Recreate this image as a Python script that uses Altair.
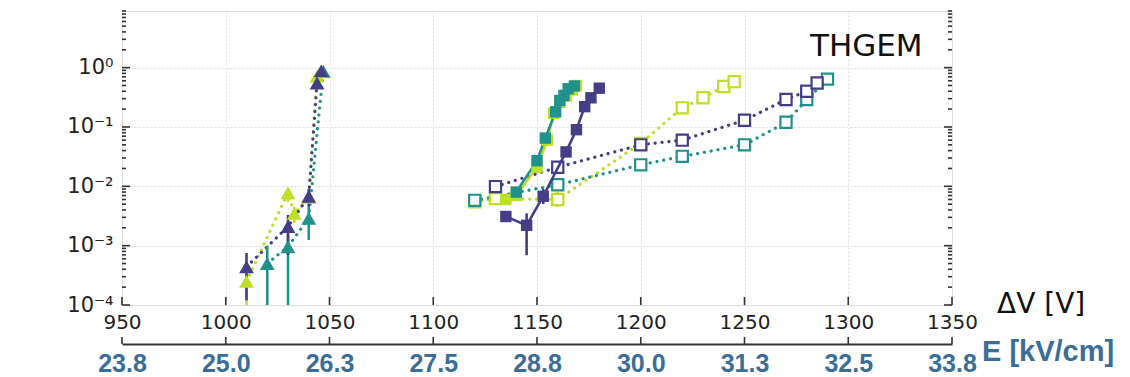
import altair as alt
import pandas as pd

# ---------------- data ----------------
C_PURPLE = "#433e85"
C_TEAL = "#21918c"
C_LIME = "#bddf26"

# triangles, dotted lines
tri_lime_x = [1010, 1030, 1033, 1040, 1044, 1046]
tri_lime_y = [2.5e-4, 7.8e-3, 3.5e-3, 6.5e-3, 0.72, 0.85]
tri_lime_lo = [1e-5, 5.5e-3, 2.4e-3, 5.0e-3, 0.65, 0.80]
tri_lime_hi = [3.2e-4, 9.0e-3, 4.5e-3, 8.0e-3, 0.80, 0.90]

tri_purple_x = [1010, 1030, 1040, 1044, 1046]
tri_purple_y = [4.4e-4, 2.1e-3, 6.8e-3, 0.55, 0.88]
tri_purple_lo = [1.2e-4, 7.0e-4, 4.5e-3, 0.50, 0.85]
tri_purple_hi = [7.5e-4, 3.3e-3, 9.0e-3, 0.60, 0.92]

tri_teal_x = [1020, 1030, 1040, 1047]
tri_teal_y = [5.0e-4, 9.6e-4, 2.9e-3, 0.87]
tri_teal_lo = [1e-5, 1e-5, 1.25e-3, 0.80]
tri_teal_hi = [1.0e-3, 1.5e-3, 4.5e-3, 0.95]

# filled squares, solid lines
fill_lime_x = [1135, 1140, 1150, 1155, 1158, 1161, 1164, 1167, 1169]
fill_lime_y = [6.0e-3, 7.0e-3, 0.021, 0.060, 0.17, 0.26, 0.33, 0.42, 0.50]
fill_teal_x = [1140, 1150, 1154, 1159, 1161, 1163, 1165, 1168]
fill_teal_y = [8.0e-3, 0.027, 0.065, 0.18, 0.28, 0.34, 0.44, 0.49]
fill_teal_lo = [6.0e-3, 0.025, 0.062, 0.17, 0.27, 0.33, 0.43, 0.48]
fill_teal_hi = [9.5e-3, 0.029, 0.068, 0.19, 0.29, 0.35, 0.45, 0.50]
fill_purple_x = [1135, 1145, 1153, 1164, 1169, 1173, 1176, 1180]
fill_purple_y = [3.1e-3, 2.2e-3, 6.8e-3, 0.038, 0.090, 0.22, 0.31, 0.45]
fill_purple_lo = [2.5e-3, 6.9e-4, 5.0e-3, 0.035, 0.085, 0.21, 0.30, 0.44]
fill_purple_hi = [3.8e-3, 3.5e-3, 9.0e-3, 0.041, 0.095, 0.23, 0.32, 0.46]

# open squares, dotted lines
open_lime_x = [1120, 1130, 1160, 1200, 1220, 1230, 1240, 1245]
open_lime_y = [5.5e-3, 6.2e-3, 6.0e-3, 0.053, 0.21, 0.31, 0.48, 0.58]
open_lime_lo = [4.3e-3, 5.5e-3, 4.5e-3, 0.050, 0.20, 0.30, 0.47, 0.57]
open_lime_hi = [6.5e-3, 7.0e-3, 8.0e-3, 0.056, 0.22, 0.32, 0.49, 0.59]
open_purple_x = [1130, 1160, 1200, 1220, 1250, 1270, 1280, 1285]
open_purple_y = [9.9e-3, 0.021, 0.050, 0.060, 0.13, 0.29, 0.40, 0.55]
open_teal_x = [1120, 1160, 1200, 1220, 1250, 1270, 1280, 1290]
open_teal_y = [5.8e-3, 0.0106, 0.023, 0.032, 0.050, 0.12, 0.29, 0.64]

x_ticks = [950, 1000, 1050, 1100, 1150, 1200, 1250, 1300, 1350]
e_tick_labels = ["23.8", "25.0", "26.3", "27.5", "28.8", "30.0", "31.3", "32.5", "33.8"]
y_ticks = [1e-4, 1e-3, 1e-2, 1e-1, 1e0]
y_tick_labels = ["10⁻⁴", "10⁻³", "10⁻²", "10⁻¹", "10⁰"]
y_minor = [m * 10.0 ** k for k in range(-4, 1) for m in range(2, 10)]

# ---------------- build tables ----------------
def frame(name, xs, ys, lo=None, hi=None):
    lo = lo if lo is not None else ys
    hi = hi if hi is not None else ys
    return pd.DataFrame({"s": name, "x": xs, "y": ys, "lo": lo, "hi": hi})

tri = pd.concat([
    frame("teal", tri_teal_x, tri_teal_y, tri_teal_lo, tri_teal_hi),
    frame("lime", tri_lime_x, tri_lime_y, tri_lime_lo, tri_lime_hi),
    frame("purple", tri_purple_x, tri_purple_y, tri_purple_lo, tri_purple_hi),
])
fil = pd.concat([
    frame("purple", fill_purple_x, fill_purple_y, fill_purple_lo, fill_purple_hi),
    frame("lime", fill_lime_x, fill_lime_y),
    frame("teal", fill_teal_x, fill_teal_y, fill_teal_lo, fill_teal_hi),
])
opn = pd.concat([
    frame("lime", open_lime_x, open_lime_y, open_lime_lo, open_lime_hi),
    frame("teal", open_teal_x, open_teal_y),
    frame("purple", open_purple_x, open_purple_y),
])

W, H = 830, 294
XDOM = [950, 1350]
YDOM = [1e-4, 9]
SEC_OFF = 39
E_COLOR = "#3a6d98"

y_label_expr = "[" + ",".join("'%s'" % t for t in y_tick_labels) + "][round(log(datum.value)/LN10)+4]"
e_label_expr = "[" + ",".join("'%s'" % t for t in e_tick_labels) + "][round((datum.value-950)/50)]"

X = alt.X("x:Q", scale=alt.Scale(domain=XDOM, nice=False, zero=False),
          axis=alt.Axis(values=x_ticks, format="d", title=None, ticks=False, domain=False,
                        grid=True, gridColor="#dddddd", gridDash=[2, 2], gridWidth=1,
                        labelFont="DejaVu Sans", labelFontSize=20, labelColor="#222222",
                        labelPadding=7, labelFlush=False))

def YF(field):
    return alt.Y(field, type="quantitative", scale=alt.Scale(type="log", domain=YDOM, nice=False),
                 axis=alt.Axis(values=y_ticks, title=None, ticks=False, domain=False,
                               grid=True, gridColor="#dddddd", gridDash=[2, 2], gridWidth=1,
                               labelExpr=y_label_expr, labelFont="DejaVu Sans", labelFontSize=21,
                               labelColor="#222222", labelPadding=9, labelFlush=False))

Y = YF("y")
COL = alt.Color("s:N", scale=alt.Scale(domain=["purple", "teal", "lime"],
                                        range=[C_PURPLE, C_TEAL, C_LIME]), legend=None)

def layers(df, shape, filled, dotted, size):
    base = alt.Chart(df)
    line_kw = dict(strokeWidth=3.2, strokeCap="round", clip=True)
    if dotted:
        line_kw["strokeDash"] = [0.1, 6.8]
    else:
        line_kw["strokeWidth"] = 2.6
    line = base.mark_line(**line_kw).encode(x=X, y=Y, color=COL, detail="s:N", order="x:Q")
    err = base.mark_rule(strokeWidth=2.6, clip=True).encode(x=X, y=YF("lo"),
                                                            y2="hi:Q", color=COL)
    if filled:
        pts = base.mark_point(shape=shape, filled=True, size=size, opacity=1, clip=True).encode(
            x=X, y=Y, color=COL)
    else:
        pts = base.mark_point(shape=shape, filled=False, fill="white", fillOpacity=1,
                              strokeWidth=2.2, size=size, opacity=1, clip=True).encode(
            x=X, y=Y, color=COL)
    return [line, err, pts]

# inward ticks
yt_major = pd.DataFrame({"y": y_ticks})
yt_minor = pd.DataFrame({"y": y_minor})
xt = pd.DataFrame({"x": x_ticks})
tick_style = dict(color="#333333", strokeWidth=1.6)
ticks = [
    alt.Chart(yt_major).mark_rule(**tick_style).encode(y=Y, x=alt.value(0), x2=alt.value(8)),
    alt.Chart(yt_minor).mark_rule(**tick_style).encode(y=Y, x=alt.value(0), x2=alt.value(4)),
    alt.Chart(yt_major).mark_rule(**tick_style).encode(y=Y, x=alt.value(W - 8), x2=alt.value(W)),
    alt.Chart(yt_minor).mark_rule(**tick_style).encode(y=Y, x=alt.value(W - 4), x2=alt.value(W)),
    alt.Chart(xt).mark_rule(**tick_style).encode(x=X, y=alt.value(H - 8), y2=alt.value(H)),
]

texts = [
    alt.Chart(pd.DataFrame({"t": ["THGEM"]})).mark_text(
        align="left", baseline="middle", font="DejaVu Sans", fontSize=31, color="#111111"
    ).encode(text="t:N", x=alt.value(688), y=alt.value(36)),
    alt.Chart(pd.DataFrame({"t": ["ΔV [V]"]})).mark_text(
        align="left", baseline="middle", font="DejaVu Sans", fontSize=28, color="#111111"
    ).encode(text="t:N", x=alt.value(875), y=alt.value(294)),
    alt.Chart(pd.DataFrame({"t": ["E [kV/cm]"]})).mark_text(
        align="left", baseline="middle", font="Liberation Sans", fontSize=29, fontWeight="bold",
        color=E_COLOR
    ).encode(text="t:N", x=alt.value(860), y=alt.value(341)),
]

inner = alt.layer(
    *ticks,
    *layers(opn, "square", False, True, 125),
    *layers(tri, "triangle-up", True, True, 220),
    *layers(fil, "square", True, False, 130),
    *texts,
)

sec = alt.Chart(xt).mark_rule(color="#333333", strokeWidth=1.6).encode(
    x=alt.X("x:Q", scale=alt.Scale(domain=XDOM, nice=False, zero=False),
            axis=alt.Axis(orient="bottom", offset=SEC_OFF, values=x_ticks, title=None, ticks=False,
                          domain=True, domainColor="#333333", domainWidth=2, grid=False,
                          labelExpr=e_label_expr, labelFont="Liberation Sans", labelFontSize=25,
                          labelFontWeight="bold", labelColor=E_COLOR, labelPadding=7,
                          labelFlush=False)),
    y=alt.value(H + SEC_OFF - 7), y2=alt.value(H + SEC_OFF),
)

chart = alt.layer(inner, sec).resolve_scale(x="independent").properties(
    width=W, height=H,
    autosize=alt.AutoSizeParams(type="none"),
    padding={"left": 114, "top": 3, "right": 170, "bottom": 72},
).configure_view(stroke="#333333", strokeWidth=2).configure(background="white")

chart.save("out.html", embed_options={"renderer": "svg", "actions": False})
